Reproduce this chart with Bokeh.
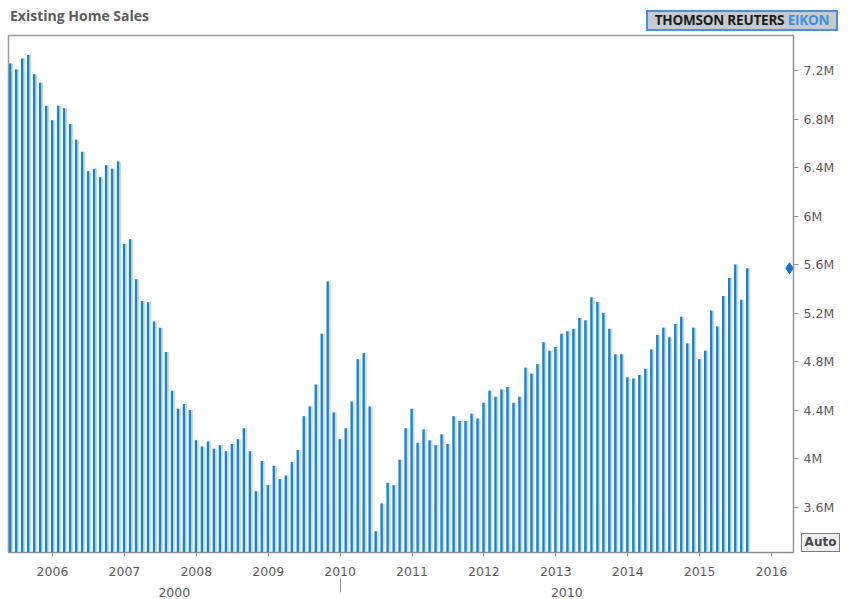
import pandas as pd
from bokeh.plotting import figure
from bokeh.models import Range1d, LinearAxis, FixedTicker, CustomJSTickFormatter, Div
from bokeh.layouts import column
from bokeh.embed import file_html
from bokeh.resources import INLINE

# ---------------- data ----------------
title_text = "Existing Home Sales"
badge_dark = "THOMSON REUTERS"
badge_blue = "EIKON"
auto_text = "Auto"
start_month = "2005-06-01"
# monthly existing home sales, millions (SAAR), Jun 2005 .. Sep 2015
sales_m = [
    7.26, 7.21, 7.30, 7.33, 7.17, 7.10, 6.91,                                # 2005 Jun-Dec
    6.79, 6.91, 6.89, 6.76, 6.63, 6.53, 6.37, 6.39, 6.32, 6.42, 6.39, 6.45,  # 2006
    5.77, 5.81, 5.48, 5.30, 5.29, 5.13, 5.08, 4.88, 4.56, 4.41, 4.45, 4.40,  # 2007
    4.15, 4.10, 4.14, 4.08, 4.11, 4.06, 4.12, 4.16, 4.25, 4.06, 3.73, 3.98,  # 2008
    3.78, 3.94, 3.83, 3.86, 3.97, 4.07, 4.35, 4.43, 4.61, 5.03, 5.46, 4.38,  # 2009
    4.16, 4.25, 4.47, 4.82, 4.87, 4.43, 3.40, 3.63, 3.80, 3.78, 3.99, 4.25,  # 2010
    4.41, 4.13, 4.24, 4.15, 4.11, 4.20, 4.12, 4.35, 4.31, 4.31, 4.37, 4.33,  # 2011
    4.46, 4.56, 4.51, 4.57, 4.59, 4.46, 4.51, 4.75, 4.70, 4.78, 4.96, 4.89,  # 2012
    4.92, 5.03, 5.05, 5.07, 5.16, 5.14, 5.33, 5.29, 5.20, 5.07, 4.86, 4.86,  # 2013
    4.67, 4.66, 4.69, 4.74, 4.90, 5.02, 5.08, 5.00, 5.11, 5.17, 4.95, 5.08,  # 2014
    4.82, 4.89, 5.22, 5.09, 5.34, 5.49, 5.60, 5.31, 5.57,                    # 2015 Jan-Sep
]
year_ticks = list(range(2006, 2017))
y_ticks = [3.6, 4.0, 4.4, 4.8, 5.2, 5.6, 6.0, 6.4, 6.8, 7.2]
decade_labels = ["2000", "2010"]
decade_split = 2010

months = pd.date_range(start_month, periods=len(sales_m), freq="MS")
xpos = list(months.year + (months.month - 1) / 12.0)

# ---------------- layout / style ----------------
x_start, x_end = 2005.388, 2016.306
y_start, y_end = 3.225, 7.49
FRAME_W = 785
px = (x_end - x_start) / FRAME_W  # years per pixel

TXT = "#5a5a5a"
AX = "#8f8f8f"

header_html = f"""
<div style="position:relative;width:856px;height:33px;margin:0;padding:0;overflow:visible;">
  <span style="position:absolute;left:10px;top:6px;font-family:'Open Sans';font-size:14px;
               font-weight:bold;color:#5c5c5c;line-height:20px;white-space:nowrap;">{title_text}</span>
  <div style="position:absolute;left:646px;top:10px;width:192px;height:21px;box-sizing:border-box;
              border:2px solid #4d90d8;background:#c6cbd2;text-align:center;
              font-family:'Open Sans';font-size:13.5px;font-weight:bold;line-height:17px;
              color:#1a1a1a;white-space:nowrap;letter-spacing:-0.2px;">{badge_dark} <span style="color:#3d8fe0;">{badge_blue}</span></div>
  <div style="position:absolute;left:801px;top:533px;width:39px;height:19px;z-index:1000;
              box-sizing:border-box;border:1.5px solid #7a7a7a;background:#f0f0f0;
              font-family:'DejaVu Sans';font-size:12px;font-weight:bold;color:#4a4a4a;
              text-align:center;line-height:16px;white-space:nowrap;">{auto_text}</div>
</div>
"""
header = Div(text=header_html, width=856, height=33, margin=(0, 0, 0, 0),
             styles={"overflow": "visible", "z-index": "10"})

p = figure(width=856, height=566, x_range=Range1d(x_start, x_end),
           y_range=Range1d(y_start, y_end), output_backend="svg",
           toolbar_location=None, title=None, y_axis_location="right",
           min_border_left=8, min_border_top=2, min_border_right=63,
           min_border_bottom=46, margin=(0, 0, 0, 0))
p.background_fill_color = "white"
p.border_fill_color = "white"
p.outline_line_color = "#9a9a9a"
p.outline_line_width = 1.5
p.xgrid.visible = False
p.ygrid.visible = False

# bars: light cyan body with a dark blue stroke on the left
p.vbar(x=[v + 0.6 * px for v in xpos], width=4 * px, top=sales_m, bottom=3.0,
       fill_color="#a9e3f7", line_color=None)
p.vbar(x=[v - 0.4 * px for v in xpos], width=2.3 * px, top=sales_m, bottom=3.0,
       fill_color="#2b7db8", line_color=None)

# last-value marker at the right axis
p.scatter(x=[x_end - 4 * px], y=[sales_m[-1]], marker="diamond", size=11,
          fill_color="#1a6fc4", line_color="#1a6fc4")

# x axis (years)
xa = p.xaxis[0]
xa.ticker = FixedTicker(ticks=year_ticks, minor_ticks=[])
xa.formatter = CustomJSTickFormatter(code="return tick.toFixed(0)")
xa.axis_line_color = AX
xa.major_tick_line_color = AX
xa.major_tick_out = 4
xa.major_tick_in = 0
xa.major_label_standoff = 10
xa.major_label_text_font = "DejaVu Sans"
xa.major_label_text_font_size = "12.5px"
xa.major_label_text_color = TXT

# second row: decades
mid1 = (x_start + decade_split) / 2
mid2 = (decade_split + x_end) / 2
ax2 = LinearAxis(ticker=FixedTicker(ticks=[mid1, mid2], minor_ticks=[decade_split]),
                 formatter=CustomJSTickFormatter(args=dict(labels=decade_labels, split=decade_split),
                                                 code="return tick < split ? labels[0] : labels[1]"),
                 axis_line_color=None, major_tick_line_color=None,
                 major_tick_out=0, major_tick_in=0,
                 minor_tick_line_color=AX, minor_tick_out=14, minor_tick_in=0,
                 major_label_standoff=-5,
                 major_label_text_font="DejaVu Sans",
                 major_label_text_font_size="12.5px",
                 major_label_text_color=TXT)
p.add_layout(ax2, "below")

# right y axis
ya = p.yaxis[0]
ya.ticker = FixedTicker(ticks=y_ticks, minor_ticks=[])
ya.formatter = CustomJSTickFormatter(code="return (Math.round(tick*10)/10) + 'M'")
ya.axis_line_color = AX
ya.major_tick_line_color = AX
ya.major_tick_out = 5
ya.major_tick_in = 0
ya.major_label_standoff = 5
ya.major_label_text_font = "DejaVu Sans"
ya.major_label_text_font_size = "12.5px"
ya.major_label_text_color = TXT

layout = column(header, p, spacing=0)
open("out.html", "w").write(file_html(layout, INLINE))
